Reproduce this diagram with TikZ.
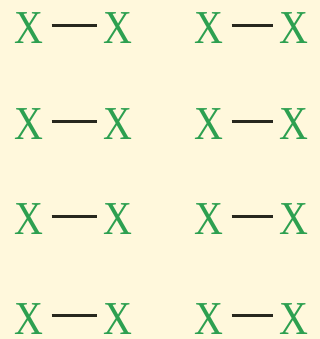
\documentclass[tikz,border=0pt]{standalone}
\usepackage{graphicx}
\usepackage{fontspec}
\setmainfont{Liberation Serif}
\definecolor{bg}{RGB}{255,248,220}
\definecolor{xgreen}{RGB}{45,160,80}
\definecolor{bond}{RGB}{40,40,30}
\newcommand\tallX{\scalebox{1}[1.18]{X}}
\begin{document}
\begin{tikzpicture}[x=1pt,y=1pt,
  atom/.style={text=xgreen,font=\fontsize{40}{40}\selectfont,inner sep=0pt,text depth=0pt,anchor=base},
  bondline/.style={draw=bond,line width=3.5pt,shorten <=8pt,shorten >=6pt}]
\fill[bg] (0,0) rectangle (320,339);
\useasboundingbox (0,0) rectangle (320,339);
\foreach \r/\y in {1/295,2/199,3/104,4/5}{
  \node[atom] (a\r) at (29,\y) {\tallX};
  \node[atom] (b\r) at (117.5,\y) {\tallX};
  \node[atom] (c\r) at (209,\y) {\tallX};
  \node[atom] (d\r) at (294,\y) {\tallX};
  \draw[bondline] ([yshift=3pt]a\r.east) -- ([yshift=3pt]b\r.west);
  \draw[bondline] ([yshift=3pt]c\r.east) -- ([yshift=3pt]d\r.west);
}
\end{tikzpicture}
\end{document}
